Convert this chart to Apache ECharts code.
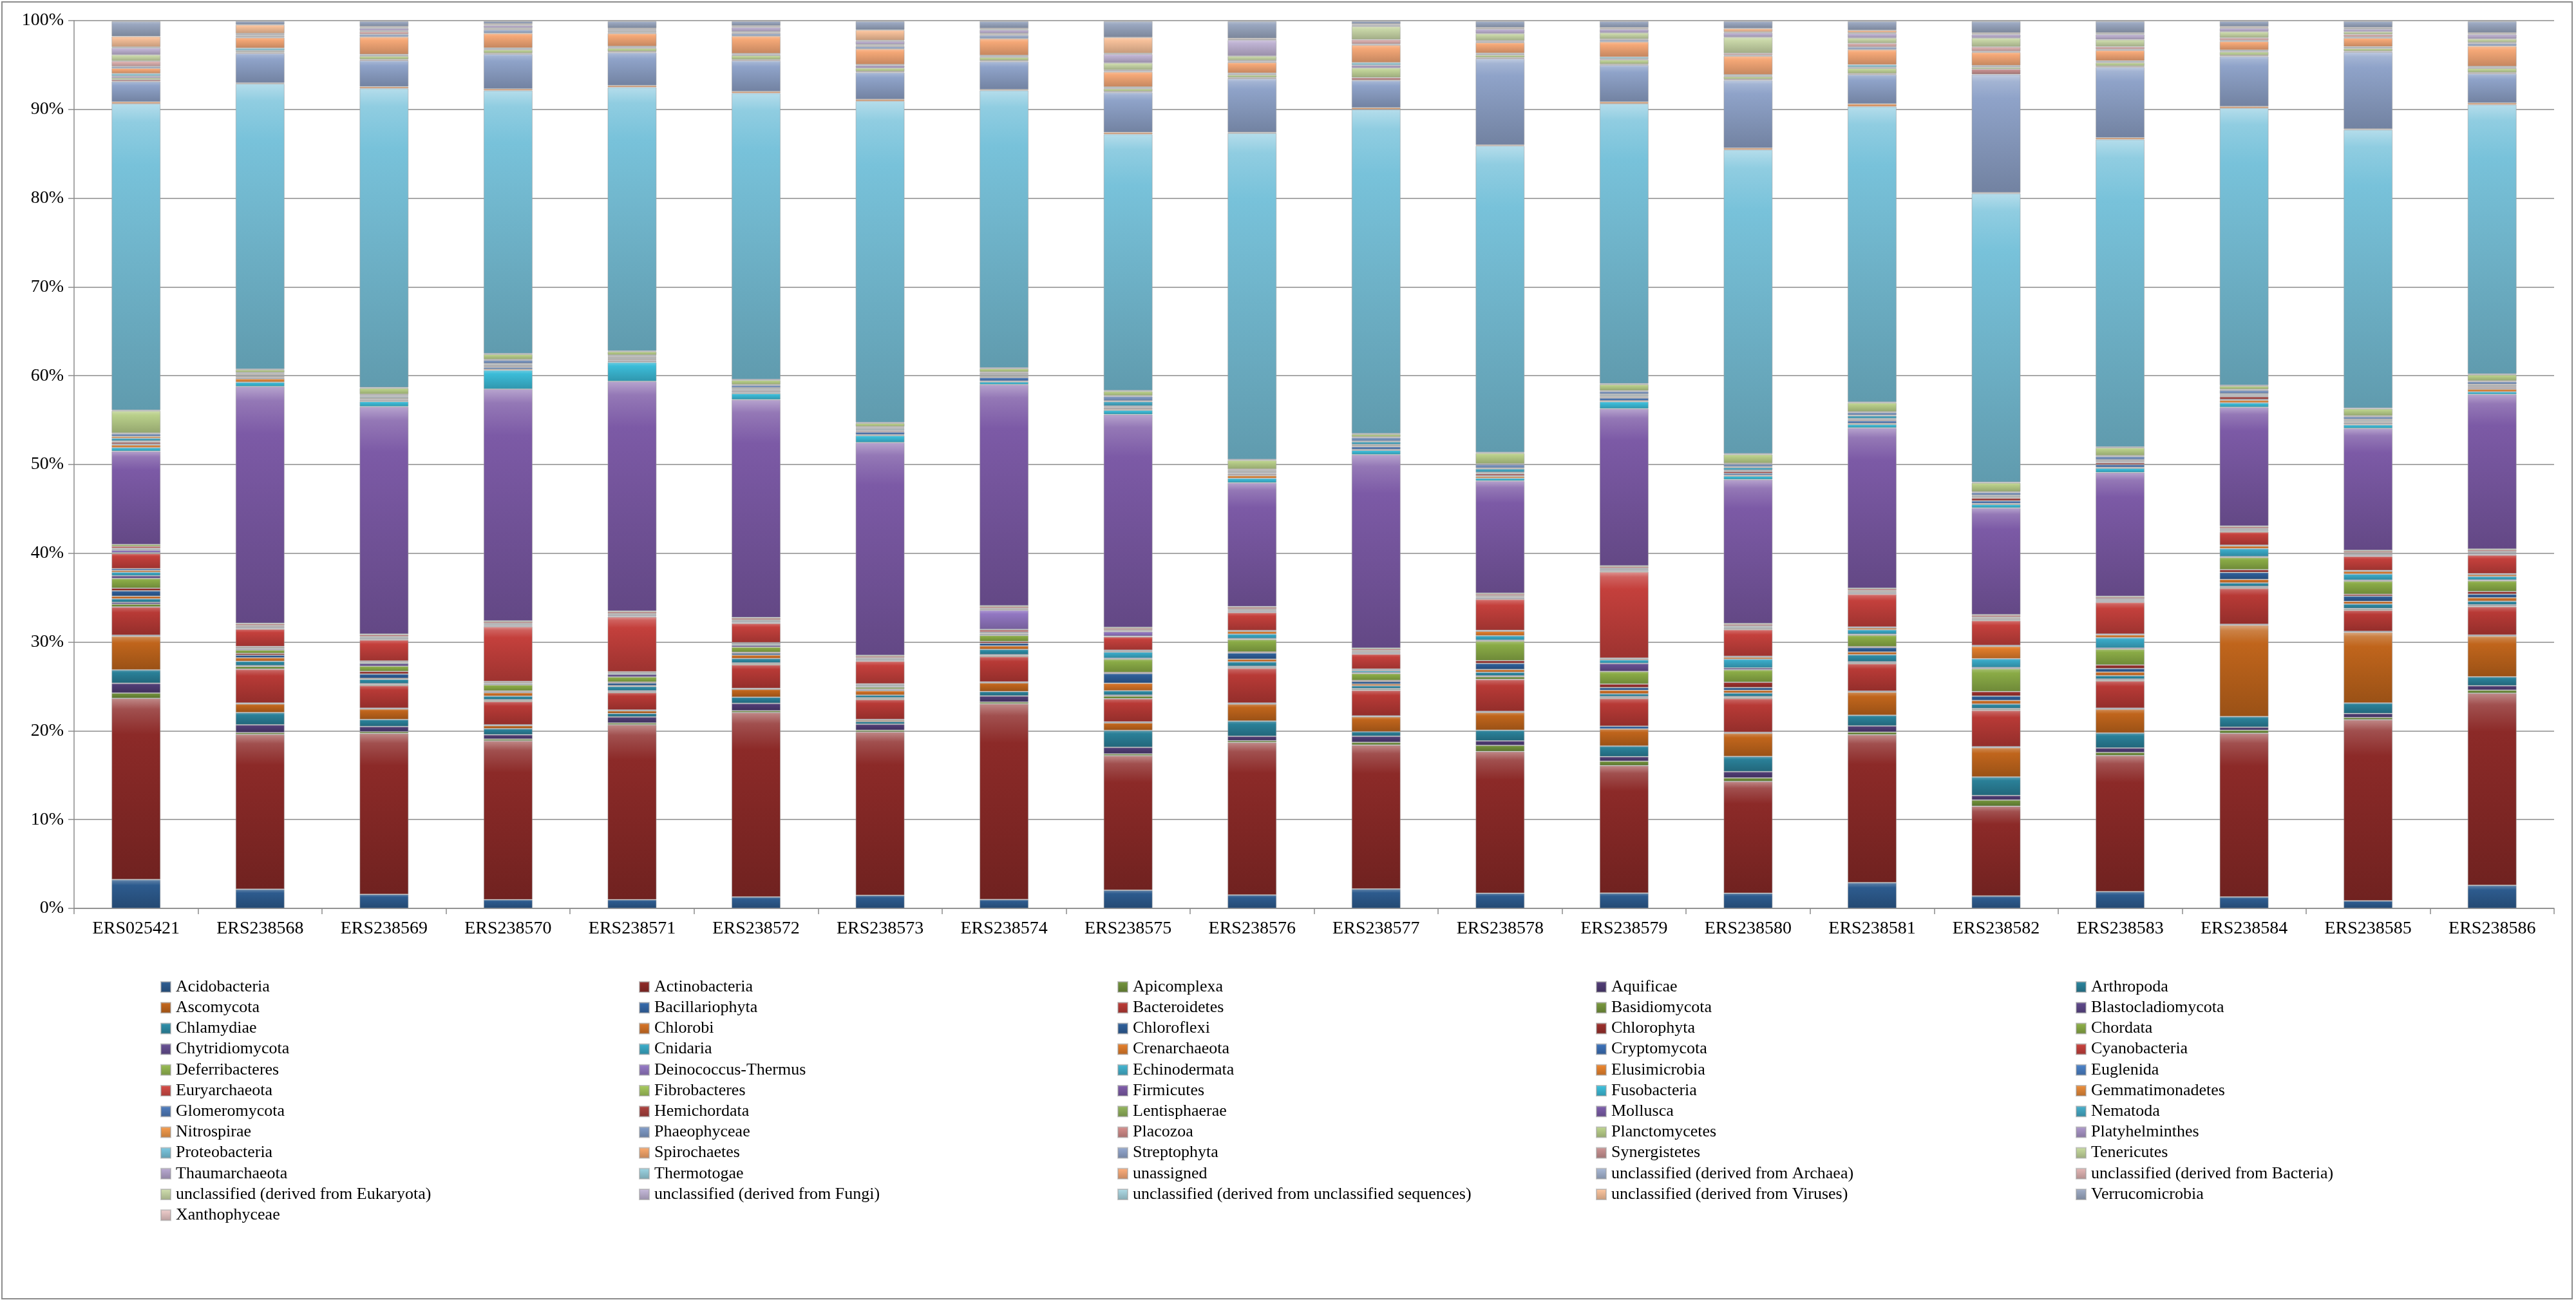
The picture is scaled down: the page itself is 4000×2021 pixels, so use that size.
<!DOCTYPE html>
<html><head><meta charset="utf-8">
<script src="https://cdn.jsdelivr.net/npm/echarts/dist/echarts.min.js"></script>
<style>html,body{margin:0;padding:0;background:#fff}#chart{width:4000px;height:2021px}</style>
</head><body><div id="chart"></div>
<script>
const categories = ['ERS025421','ERS238568','ERS238569','ERS238570','ERS238571','ERS238572','ERS238573','ERS238574','ERS238575','ERS238576','ERS238577','ERS238578','ERS238579','ERS238580','ERS238581','ERS238582','ERS238583','ERS238584','ERS238585','ERS238586'];

const acidobacteria = [3.25, 2.2, 1.6, 1.0, 1.0, 1.3, 1.5, 1.0, 2.05, 1.5, 2.2, 1.7, 1.7, 1.7, 2.9, 1.4, 1.9, 1.3, 0.85, 2.6];
const actinobacteria = [20.4, 17.8, 18.4, 18.3, 20.1, 21.0, 18.8, 22.3, 15.1, 17.0, 16.3, 15.9, 14.2, 12.5, 16.6, 10.1, 15.4, 18.6, 20.5, 21.6];
const apicomplexa = [0.6, 0.2, 0.2, 0.2, 0.2, 0.2, 0.2, 0.2, 0.2, 0.2, 0.3, 0.7, 0.5, 0.4, 0.3, 0.7, 0.35, 0.35, 0.25, 0.35];
const aquificae = [1.1, 0.9, 0.6, 0.5, 0.7, 0.85, 0.7, 0.7, 0.75, 0.5, 0.7, 0.5, 0.5, 0.7, 0.7, 0.5, 0.5, 0.35, 0.45, 0.5];
const arthropoda = [1.5, 1.4, 0.8, 0.7, 0.4, 0.7, 0.3, 0.5, 1.9, 1.7, 0.5, 1.2, 1.2, 1.7, 1.2, 2.1, 1.7, 1.2, 1.2, 1.0];
const ascomycota = [3.8, 1.0, 1.2, 0.35, 0.3, 0.9, 0.15, 1.0, 0.85, 1.9, 1.7, 2.0, 1.9, 2.6, 2.6, 3.3, 2.7, 10.4, 8.0, 4.6];
const bacillariophyta = [0.1, 0.1, 0.1, 0.1, 0.1, 0.1, 0.1, 0.1, 0.1, 0.1, 0.1, 0.1, 0.3, 0.1, 0.1, 0.1, 0.1, 0.1, 0.1, 0.1];
const bacteroidetes = [3.2, 3.9, 2.6, 2.7, 2.0, 2.7, 2.3, 2.9, 2.6, 3.9, 2.9, 3.6, 3.1, 3.8, 3.1, 4.1, 3.1, 4.1, 2.4, 3.2];
const basidiomycota = [0.3, 0.3, 0.1, 0.1, 0.1, 0.1, 0.1, 0.1, 0.3, 0.1, 0.1, 0.3, 0.1, 0.1, 0.1, 0.1, 0.1, 0.1, 0.1, 0.1];
const blastocladiomycota = [0.2, 0.1, 0.1, 0.1, 0.1, 0.1, 0.1, 0.1, 0.1, 0.1, 0.1, 0.1, 0.1, 0.1, 0.1, 0.1, 0.1, 0.1, 0.1, 0.1];
const chlamydiae = [0.4, 0.5, 0.5, 0.4, 0.5, 0.5, 0.3, 0.6, 0.5, 0.5, 0.3, 0.4, 0.3, 0.4, 0.8, 0.5, 0.4, 0.4, 0.5, 0.4];
const chlorobi = [0.3, 0.4, 0.1, 0.4, 0.1, 0.4, 0.5, 0.4, 0.85, 0.3, 0.2, 0.3, 0.4, 0.3, 0.3, 0.4, 0.4, 0.4, 0.3, 0.4];
const chloroflexi = [0.6, 0.3, 0.5, 0.1, 0.3, 0.2, 0.1, 0.3, 1.1, 0.7, 0.3, 0.7, 0.3, 0.3, 0.5, 0.5, 0.4, 0.8, 0.6, 0.4];
const chlorophyta = [0.3, 0.2, 0.3, 0.1, 0.1, 0.1, 0.1, 0.2, 0.1, 0.1, 0.1, 0.3, 0.4, 0.6, 0.1, 0.5, 0.4, 0.3, 0.2, 0.3];
const chordata = [1.1, 0.4, 0.6, 0.7, 0.6, 0.6, 0.2, 0.7, 1.5, 1.4, 0.8, 2.2, 1.4, 1.4, 1.3, 2.6, 1.8, 1.4, 1.5, 1.2];
const chytridiomycota = [0.3, 0.1, 0.3, 0.1, 0.3, 0.2, 0.1, 0.1, 0.1, 0.1, 0.1, 0.1, 0.9, 0.2, 0.1, 0.1, 0.1, 0.1, 0.1, 0.1];
const cnidaria = [0.4, 0.1, 0.1, 0.1, 0.1, 0.1, 0.1, 0.1, 0.7, 0.5, 0.2, 0.5, 0.4, 1.0, 0.5, 1.0, 1.2, 0.9, 0.7, 0.4];
const crenarchaeota = [0.2, 0.1, 0.1, 0.1, 0.1, 0.1, 0.1, 0.1, 0.1, 0.3, 0.1, 0.5, 0.1, 0.2, 0.2, 1.4, 0.3, 0.3, 0.3, 0.2];
const cryptomycota = [0.2, 0.1, 0.1, 0.1, 0.1, 0.1, 0.1, 0.1, 0.1, 0.1, 0.1, 0.1, 0.1, 0.1, 0.1, 0.1, 0.1, 0.1, 0.1, 0.1];
const cyanobacteria = [1.7, 2.0, 2.4, 6.3, 6.3, 2.2, 2.6, 0.2, 1.5, 2.0, 1.7, 3.5, 9.6, 3.0, 3.7, 2.8, 3.6, 1.5, 1.6, 2.1];
const deferribacteres = [0.08, 0.08, 0.08, 0.08, 0.08, 0.08, 0.08, 0.08, 0.08, 0.08, 0.08, 0.08, 0.08, 0.08, 0.08, 0.08, 0.08, 0.08, 0.08, 0.08];
const deinococcusThermus = [0.3, 0.1, 0.1, 0.1, 0.1, 0.1, 0.1, 2.2, 0.5, 0.1, 0.1, 0.1, 0.1, 0.1, 0.1, 0.1, 0.1, 0.1, 0.1, 0.1];
const echinodermata = [0.08, 0.08, 0.08, 0.08, 0.08, 0.08, 0.08, 0.08, 0.08, 0.08, 0.08, 0.08, 0.08, 0.08, 0.08, 0.08, 0.08, 0.08, 0.08, 0.08];
const elusimicrobia = [0.08, 0.08, 0.08, 0.08, 0.08, 0.08, 0.08, 0.08, 0.08, 0.08, 0.08, 0.08, 0.08, 0.08, 0.08, 0.08, 0.08, 0.08, 0.08, 0.08];
const euglenida = [0.08, 0.08, 0.08, 0.08, 0.08, 0.08, 0.08, 0.08, 0.08, 0.08, 0.08, 0.08, 0.08, 0.08, 0.08, 0.08, 0.08, 0.08, 0.08, 0.08];
const euryarchaeota = [0.2, 0.15, 0.15, 0.15, 0.15, 0.15, 0.15, 0.15, 0.15, 0.15, 0.15, 0.15, 0.15, 0.15, 0.15, 0.15, 0.15, 0.15, 0.15, 0.15];
const fibrobacteres = [0.2, 0.1, 0.1, 0.1, 0.1, 0.1, 0.1, 0.1, 0.1, 0.1, 0.1, 0.1, 0.1, 0.1, 0.1, 0.1, 0.1, 0.1, 0.1, 0.1];
const firmicutes = [10.5, 27.2, 26.0, 26.7, 26.4, 24.8, 24.5, 25.2, 23.9, 13.8, 21.9, 12.6, 17.5, 16.1, 18.0, 12.0, 14.0, 13.5, 13.8, 17.4];
const fusobacteria = [0.4, 0.5, 0.6, 2.2, 2.2, 0.7, 0.8, 0.3, 0.5, 0.5, 0.5, 0.3, 0.8, 0.4, 0.4, 0.4, 0.5, 0.5, 0.4, 0.3];
const gemmatimonadetes = [0.3, 0.4, 0.1, 0.1, 0.1, 0.1, 0.1, 0.1, 0.1, 0.3, 0.1, 0.2, 0.1, 0.1, 0.1, 0.1, 0.1, 0.3, 0.1, 0.3];
const glomeromycota = [0.1, 0.1, 0.1, 0.2, 0.1, 0.1, 0.3, 0.4, 0.1, 0.1, 0.3, 0.1, 0.3, 0.2, 0.3, 0.3, 0.3, 0.1, 0.1, 0.1];
const hemichordata = [0.2, 0.1, 0.1, 0.1, 0.1, 0.1, 0.1, 0.1, 0.1, 0.1, 0.1, 0.2, 0.1, 0.2, 0.1, 0.3, 0.2, 0.3, 0.1, 0.1];
const lentisphaerae = [0.08, 0.08, 0.08, 0.08, 0.08, 0.08, 0.08, 0.08, 0.08, 0.08, 0.08, 0.08, 0.08, 0.08, 0.08, 0.08, 0.08, 0.08, 0.08, 0.08];
const mollusca = [0.08, 0.08, 0.08, 0.08, 0.08, 0.08, 0.08, 0.08, 0.08, 0.08, 0.08, 0.08, 0.08, 0.08, 0.08, 0.08, 0.08, 0.08, 0.08, 0.08];
const nematoda = [0.3, 0.1, 0.1, 0.1, 0.1, 0.1, 0.1, 0.1, 0.5, 0.1, 0.3, 0.4, 0.1, 0.3, 0.3, 0.1, 0.1, 0.1, 0.1, 0.1];
const nitrospirae = [0.2, 0.08, 0.08, 0.08, 0.08, 0.08, 0.08, 0.08, 0.08, 0.08, 0.08, 0.08, 0.08, 0.08, 0.08, 0.08, 0.08, 0.08, 0.08, 0.08];
const phaeophyceae = [0.3, 0.1, 0.1, 0.4, 0.1, 0.3, 0.1, 0.1, 0.5, 0.1, 0.4, 0.4, 0.3, 0.3, 0.3, 0.3, 0.4, 0.4, 0.3, 0.3];
const placozoa = [0.08, 0.08, 0.08, 0.08, 0.08, 0.08, 0.08, 0.08, 0.08, 0.08, 0.08, 0.08, 0.08, 0.08, 0.08, 0.08, 0.08, 0.08, 0.08, 0.08];
const planctomycetes = [2.5, 0.3, 0.7, 0.6, 0.4, 0.5, 0.4, 0.4, 0.5, 1.0, 0.3, 1.2, 0.7, 1.0, 1.0, 1.0, 0.9, 0.4, 0.8, 0.7];
const platyhelminthes = [0.08, 0.08, 0.08, 0.08, 0.08, 0.08, 0.08, 0.08, 0.08, 0.08, 0.08, 0.08, 0.08, 0.08, 0.08, 0.08, 0.08, 0.08, 0.08, 0.08];
const proteobacteria = [34.5, 32.8, 34.2, 30.3, 30.3, 32.6, 37.0, 31.6, 28.8, 36.4, 36.7, 34.4, 31.2, 34.0, 33.2, 32.5, 34.8, 31.5, 31.5, 30.3];
const spirochaetes = [0.2, 0.1, 0.2, 0.2, 0.2, 0.2, 0.2, 0.1, 0.2, 0.1, 0.2, 0.1, 0.2, 0.2, 0.3, 0.1, 0.2, 0.2, 0.1, 0.2];
const streptophyta = [2.3, 3.4, 3.0, 4.0, 3.8, 3.5, 3.1, 3.2, 4.5, 6.0, 3.1, 9.7, 4.1, 7.6, 3.3, 13.3, 8.0, 5.7, 8.7, 3.3];
const synergistetes = [0.2, 0.1, 0.1, 0.1, 0.1, 0.1, 0.1, 0.1, 0.1, 0.1, 0.3, 0.1, 0.1, 0.1, 0.1, 0.6, 0.1, 0.1, 0.1, 0.1];
const tenericutes = [0.2, 0.1, 0.4, 0.4, 0.4, 0.5, 0.4, 0.4, 0.3, 0.3, 1.1, 0.3, 0.5, 0.3, 0.6, 0.2, 0.4, 0.4, 0.3, 0.5];
const thaumarchaeota = [0.2, 0.1, 0.1, 0.1, 0.1, 0.1, 0.3, 0.1, 0.1, 0.1, 0.3, 0.1, 0.1, 0.1, 0.1, 0.1, 0.1, 0.1, 0.1, 0.1];
const thermotogae = [0.3, 0.3, 0.1, 0.1, 0.1, 0.1, 0.1, 0.1, 0.1, 0.1, 0.3, 0.1, 0.2, 0.1, 0.3, 0.1, 0.1, 0.1, 0.1, 0.1];
const unassigned = [0.6, 1.2, 2.0, 1.7, 1.5, 2.0, 1.8, 1.9, 1.7, 1.2, 2.0, 1.2, 1.7, 2.1, 1.7, 1.5, 1.2, 1.0, 1.0, 2.3];
const unclArchaea = [0.2, 0.1, 0.3, 0.4, 0.1, 0.3, 0.3, 0.4, 0.1, 0.1, 0.1, 0.1, 0.2, 0.1, 0.3, 0.1, 0.1, 0.1, 0.1, 0.3];
const unclBacteria = [0.6, 0.1, 0.3, 0.1, 0.1, 0.1, 0.1, 0.1, 0.1, 0.1, 0.5, 0.1, 0.1, 0.2, 0.4, 0.5, 0.3, 0.3, 0.3, 0.1];
const unclEukaryota = [0.7, 0.1, 0.1, 0.1, 0.1, 0.1, 0.1, 0.1, 0.8, 0.5, 1.5, 0.8, 0.7, 1.8, 0.6, 1.0, 0.8, 0.7, 0.3, 0.4];
const unclFungi = [0.8, 0.1, 0.3, 0.3, 0.1, 0.5, 0.4, 0.4, 1.0, 1.8, 0.1, 0.5, 0.4, 0.5, 0.5, 0.4, 0.6, 0.4, 0.3, 0.5];
const unclUnclassified = [0.08, 0.08, 0.08, 0.08, 0.08, 0.08, 0.08, 0.08, 0.08, 0.08, 0.08, 0.08, 0.08, 0.08, 0.08, 0.08, 0.08, 0.08, 0.08, 0.08];
const unclViruses = [1.2, 1.0, 0.1, 0.1, 0.1, 0.1, 1.2, 0.1, 1.8, 0.1, 0.1, 0.1, 0.1, 0.4, 0.3, 0.1, 0.1, 0.1, 0.1, 0.1];
const verrucomicrobia = [1.7, 0.4, 0.6, 0.3, 0.8, 0.5, 1.0, 0.8, 1.8, 1.9, 0.3, 0.7, 0.7, 0.8, 1.0, 1.3, 1.3, 0.6, 0.7, 1.3];
const xanthophyceae = [0.08, 0.08, 0.08, 0.08, 0.08, 0.08, 0.08, 0.08, 0.08, 0.08, 0.08, 0.08, 0.08, 0.08, 0.08, 0.08, 0.08, 0.08, 0.08, 0.08];

const seriesNames = ['Acidobacteria','Actinobacteria','Apicomplexa','Aquificae','Arthropoda','Ascomycota','Bacillariophyta','Bacteroidetes','Basidiomycota','Blastocladiomycota','Chlamydiae','Chlorobi','Chloroflexi','Chlorophyta','Chordata','Chytridiomycota','Cnidaria','Crenarchaeota','Cryptomycota','Cyanobacteria','Deferribacteres','Deinococcus-Thermus','Echinodermata','Elusimicrobia','Euglenida','Euryarchaeota','Fibrobacteres','Firmicutes','Fusobacteria','Gemmatimonadetes','Glomeromycota','Hemichordata','Lentisphaerae','Mollusca','Nematoda','Nitrospirae','Phaeophyceae','Placozoa','Planctomycetes','Platyhelminthes','Proteobacteria','Spirochaetes','Streptophyta','Synergistetes','Tenericutes','Thaumarchaeota','Thermotogae','unassigned','unclassified (derived from Archaea)','unclassified (derived from Bacteria)','unclassified (derived from Eukaryota)','unclassified (derived from Fungi)','unclassified (derived from unclassified sequences)','unclassified (derived from Viruses)','Verrucomicrobia','Xanthophyceae'];

const seriesValues = [acidobacteria, actinobacteria, apicomplexa, aquificae, arthropoda, ascomycota, bacillariophyta, bacteroidetes, basidiomycota, blastocladiomycota, chlamydiae, chlorobi, chloroflexi, chlorophyta, chordata, chytridiomycota, cnidaria, crenarchaeota, cryptomycota, cyanobacteria, deferribacteres, deinococcusThermus, echinodermata, elusimicrobia, euglenida, euryarchaeota, fibrobacteres, firmicutes, fusobacteria, gemmatimonadetes, glomeromycota, hemichordata, lentisphaerae, mollusca, nematoda, nitrospirae, phaeophyceae, placozoa, planctomycetes, platyhelminthes, proteobacteria, spirochaetes, streptophyta, synergistetes, tenericutes, thaumarchaeota, thermotogae, unassigned, unclArchaea, unclBacteria, unclEukaryota, unclFungi, unclUnclassified, unclViruses, verrucomicrobia, xanthophyceae];

// styling (colours per series, in the same order)
const seriesColors = [
 '#2d5b8e','#8c2a28','#6f8f3a','#4f3c74','#2a8098','#c0651c',
 '#3468a8','#b83a36','#76953c','#5c4788','#2e8ca6','#d37226',
 '#2e5e98','#9a2f2c','#8aab46','#654f91','#39a9c6','#e07c2a',
 '#3b6fb6','#c4403c','#94b650','#9277c2','#42b0cc','#e8832d',
 '#4a7fc4','#d04a45','#a3c55b','#7c5aa6','#3cbcd8','#e58a3a',
 '#4d79b8','#a8403d','#8fb05a','#7a5ca8','#45aac6','#f0984a',
 '#7d98c4','#d08a88','#b9cf8a','#a894c6','#78c2da','#f3a46a',
 '#8fa3c9','#c69090','#c2d59a','#b3a4cb','#96cddb','#f5a877',
 '#a3b3cf','#ddb1b0','#c9d7a8','#bfb3d3','#a8d3de','#f6c09a',
 '#9aa7c0','#e7c6c5'
];

function hexToRgb(h){h=h.replace('#','');return [parseInt(h.substr(0,2),16),parseInt(h.substr(2,2),16),parseInt(h.substr(4,2),16)];}
function mix(h, t, k){const a=hexToRgb(h), b=hexToRgb(t);return 'rgb('+a.map((v,i)=>Math.round(v+(b[i]-v)*k)).join(',')+')';}
function grad(c){
  return new echarts.graphic.LinearGradient(0,0,0,1,[
    {offset:0, color: mix(c,'#ffffff',0.45)},
    {offset:0.06, color: mix(c,'#ffffff',0.18)},
    {offset:0.2, color: c},
    {offset:1, color: mix(c,'#000000',0.2)}
  ]);
}

const totals = categories.map((_, j) => seriesValues.reduce((s, arr) => s + arr[j], 0));

const series = seriesNames.map((name, i) => ({
  type: 'bar', name: name, stack: 'all', barWidth: 76,
  data: seriesValues[i].map((v, j) => v / totals[j] * 100),
  itemStyle: { color: grad(seriesColors[i]), borderColor: 'rgba(160,160,160,0.55)', borderWidth: 1 },
  emphasis: { disabled: true }
}));

const colLeft = [249, 992, 1735, 2478, 3223];
const legends = colLeft.map((x, k) => ({
  orient: 'vertical', left: x, top: 1519, padding: 0,
  itemWidth: 15, itemHeight: 16, itemGap: 6.2,
  selectedMode: false, icon: 'rect',
  data: seriesNames.filter((_, i) => i % 5 === k),
  textStyle: { fontFamily: 'Liberation Serif', fontSize: 26, color: '#000', lineHeight: 26, padding: [0,0,0,3] }
}));

const chart = echarts.init(document.getElementById('chart'));
chart.setOption({
  animation: false,
  backgroundColor: '#fff',
  grid: { left: 115, right: 34, top: 32, bottom: 611 },
  legend: legends,
  xAxis: {
    type: 'category', data: categories,
    axisLine: { lineStyle: { color: '#8c8c8c', width: 1.5 } },
    axisTick: { show: true, length: 9, lineStyle: { color: '#8c8c8c', width: 1.5 } },
    axisLabel: { fontFamily: 'Liberation Serif', fontSize: 28, color: '#000', margin: 18 }
  },
  yAxis: {
    type: 'value', min: 0, max: 100, interval: 10,
    axisLine: { show: true, lineStyle: { color: '#8c8c8c', width: 1.5 } },
    axisTick: { show: true, length: 9, lineStyle: { color: '#8c8c8c', width: 1.5 } },
    splitLine: { lineStyle: { color: '#8c8c8c', width: 1.5 } },
    axisLabel: { formatter: '{value}%', fontFamily: 'Liberation Serif', fontSize: 28, color: '#000', margin: 16 }
  },
  graphic: [{ type: 'rect', shape: { x: 3, y: 3, width: 3991, height: 2013 }, style: { fill: 'none', stroke: '#8c8c8c', lineWidth: 2 }, silent: true }],
  series: series
});
</script></body></html>
